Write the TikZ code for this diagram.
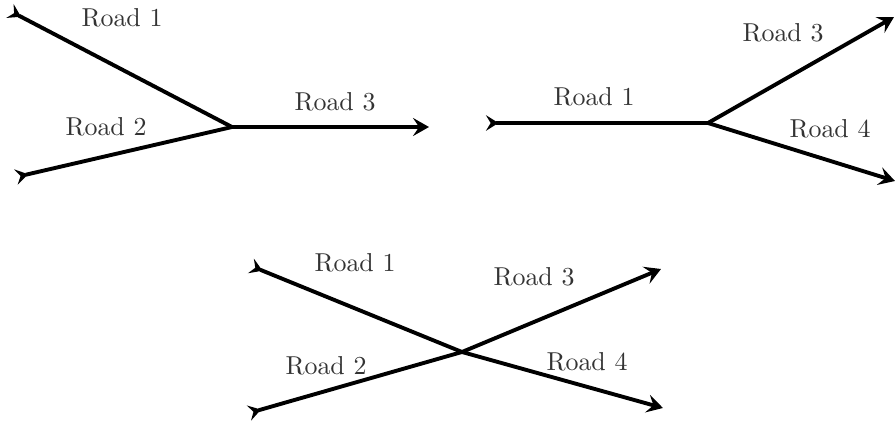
\documentclass[tikz,border=0pt]{standalone}
\usetikzlibrary{arrows.meta}
\begin{document}
\begin{tikzpicture}[x=0.386pt,y=-0.386pt,
  road/.style={line width=1.5pt},
  inroad/.style={road,{Stealth[reversed,length=4.8pt,width=6pt,inset=1.8pt]}-},
  outroad/.style={road,-{Stealth[length=6.2pt,width=7pt,inset=2.4pt]}},
  lbl/.style={inner sep=0pt,text=black!80}]
\useasboundingbox (0,0) rectangle (896,423);
% panel 1
\coordinate (a1) at (10,11);
\coordinate (a2) at (16,177);
\coordinate (aj) at (232,127);
\coordinate (a3) at (429,127);
\draw[inroad] (a1) -- (aj);
\draw[inroad] (a2) -- (aj);
\draw[outroad] (aj) -- (a3);
\node[lbl] (la1) at (122,18) {Road 1};
\node[lbl] (la2) at (106,127) {Road 2};
\node[lbl] (la3) at (335,102) {Road 3};
% panel 2
\coordinate (b1) at (486,123);
\coordinate (bj) at (708,123);
\coordinate (b3) at (894,17);
\coordinate (b4) at (895,181);
\draw[inroad] (b1) -- (bj);
\draw[outroad] (bj) -- (b3);
\draw[outroad] (bj) -- (b4);
\node[lbl] (lb1) at (594,97) {Road 1};
\node[lbl] (lb3) at (783,33) {Road 3};
\node[lbl] (lb4) at (830,129) {Road 4};
% panel 3
\coordinate (c1) at (251,266);
\coordinate (c2) at (249,413);
\coordinate (cj) at (462,352);
\coordinate (c3) at (661,269);
\coordinate (c4) at (663,408);
\draw[inroad] (c1) -- (cj);
\draw[inroad] (c2) -- (cj);
\draw[outroad] (cj) -- (c3);
\draw[outroad] (cj) -- (c4);
\node[lbl] (lc1) at (355,263) {Road 1};
\node[lbl] (lc2) at (326,366) {Road 2};
\node[lbl] (lc3) at (534,277) {Road 3};
\node[lbl] (lc4) at (587,362) {Road 4};
\end{tikzpicture}
\end{document}
